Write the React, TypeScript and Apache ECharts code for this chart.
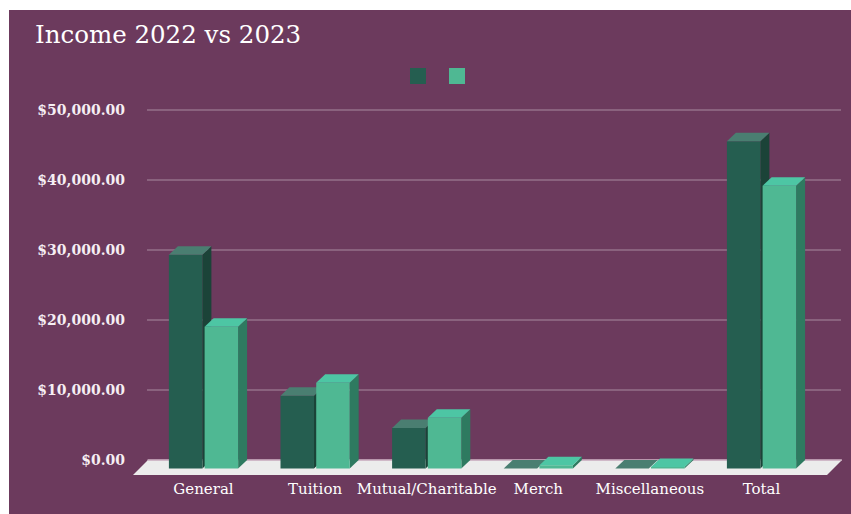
import React, { useEffect, useRef } from "react";
import * as echarts from "echarts";

const categories = ["General", "Tuition", "Mutual/Charitable", "Merch", "Miscellaneous", "Total"];
const seriesNames = ["2022", "2023"];
const income2022 = [30550, 10400, 5800, 0, 0, 46750];
const income2023 = [20250, 12250, 7250, 450, 200, 40400];
const yTicks = [0, 10000, 20000, 30000, 40000, 50000];

const palette = [
  { front: "#255e50", top: "#4a7e71", side: "#1b4338" },
  { front: "#4fb893", top: "#4dc6a4", side: "#2e7a60" },
];

const fmtMoney = (v: number) =>
  "$" + v.toLocaleString("en-US", { minimumFractionDigits: 2, maximumFractionDigits: 2 });

function makeBarRender(idx: number) {
  return (params: any, api: any) => {
    const cat = api.value(0);
    const v = api.value(1);
    const base = api.coord([cat, 0]);
    const top = api.coord([cat, v]);
    const band = api.size([1, 0])[0];
    const w = band * 0.3;
    const gap = band * 0.02;
    const dx = 9;
    const dy = 8.5;
    const xL = idx === 0 ? base[0] - w - gap / 2 : base[0] + gap / 2;
    const yb = base[1] + dy;
    const yt = top[1] + dy;
    const c = palette[idx];
    const children: any[] = [];
    if (yb - yt > 0.3) {
      children.push({
        type: "polygon",
        shape: { points: [[xL + w, yt], [xL + w + dx, top[1]], [xL + w + dx, base[1]], [xL + w, yb]] },
        style: { fill: c.side },
      });
      children.push({
        type: "rect",
        shape: { x: xL, y: yt, width: w, height: yb - yt },
        style: { fill: c.front },
      });
    }
    children.push({
      type: "polygon",
      shape: { points: [[xL, yt], [xL + w, yt], [xL + w + dx, top[1]], [xL + dx, top[1]]] },
      style: { fill: c.top },
    });
    return { type: "group", children };
  };
}

function renderFloor(params: any, api: any) {
  const cs = params.coordSys;
  const yB = cs.y + cs.height;
  const d = 15;
  return {
    type: "group",
    children: [
      {
        type: "polygon",
        shape: {
          points: [[cs.x + 1, yB], [cs.x + cs.width + 1, yB], [cs.x + cs.width + 1 - d, yB + d], [cs.x + 1 - d, yB + d]],
        },
        style: { fill: "#ececec" },
      },
      {
        type: "line",
        shape: { x1: cs.x + 1, y1: yB, x2: cs.x + cs.width + 1, y2: yB },
        style: { stroke: "#c7a9bc", lineWidth: 1.5 },
      },
    ],
  };
}

export default function App() {
  const ref = useRef<HTMLDivElement>(null);
  useEffect(() => {
    if (!ref.current) return;
    const chart = echarts.init(ref.current, undefined, { renderer: "svg" });
    const gridTop = 100;
    const gridBottom = 54;
    chart.setOption({
      animation: false,
      backgroundColor: "#6c3a5d",
      title: {
        text: "Income 2022 vs 2023",
        left: 21,
        top: 7,
        textStyle: { fontFamily: "DejaVu Serif", fontSize: 24.5, fontWeight: "normal", color: "#ffffff" },
      },
      legend: [
        {
          data: [seriesNames[0]],
          left: 396,
          top: 53,
          itemWidth: 16,
          itemHeight: 16,
          icon: "rect",
          formatter: () => "",
        },
        {
          data: [seriesNames[1]],
          left: 435,
          top: 53,
          itemWidth: 16,
          itemHeight: 16,
          icon: "rect",
          formatter: () => "",
        },
      ],
      grid: [
        { left: 138, right: 10, top: gridTop, bottom: gridBottom },
        { left: 138.7, right: 33.7, top: gridTop, bottom: gridBottom },
      ],
      xAxis: [
        { type: "value", gridIndex: 0, min: 0, max: 1, show: false },
        {
          type: "category",
          gridIndex: 1,
          data: categories,
          axisLine: { show: false },
          axisTick: { show: false },
          axisLabel: { color: "#ffffff", fontFamily: "DejaVu Serif", fontSize: 15, margin: 21, interval: 0 },
        },
      ],
      yAxis: [
        {
          type: "value",
          gridIndex: 0,
          min: yTicks[0],
          max: yTicks[yTicks.length - 1],
          interval: yTicks[1] - yTicks[0],
          axisLine: { show: false },
          axisTick: { show: false },
          splitLine: { lineStyle: { color: "rgba(255,255,255,0.28)", width: 1.5 } },
          axisLabel: {
            color: "#f6eef3",
            fontFamily: "DejaVu Serif",
            fontSize: 14,
            fontWeight: "bold",
            margin: 22,
            formatter: (v: number) => fmtMoney(v),
          },
        },
        {
          type: "value",
          gridIndex: 1,
          min: yTicks[0],
          max: yTicks[yTicks.length - 1],
          show: false,
          splitLine: { show: false },
        },
      ],
      series: [
        {
          type: "custom",
          name: "floor",
          xAxisIndex: 0,
          yAxisIndex: 0,
          z: 2,
          silent: true,
          data: [[0, 0]],
          renderItem: renderFloor,
        },
        {
          type: "custom",
          name: seriesNames[0],
          xAxisIndex: 1,
          yAxisIndex: 1,
          z: 3,
          itemStyle: { color: palette[0].front },
          data: income2022.map((v, i) => [i, v]),
          renderItem: makeBarRender(0),
        },
        {
          type: "custom",
          name: seriesNames[1],
          xAxisIndex: 1,
          yAxisIndex: 1,
          z: 4,
          itemStyle: { color: palette[1].front },
          data: income2023.map((v, i) => [i, v]),
          renderItem: makeBarRender(1),
        },
      ],
    });
    return () => chart.dispose();
  }, []);
  return (
    <div
      ref={ref}
      style={{ position: "absolute", left: 9, top: 10, width: 842, height: 504 }}
    />
  );
}
